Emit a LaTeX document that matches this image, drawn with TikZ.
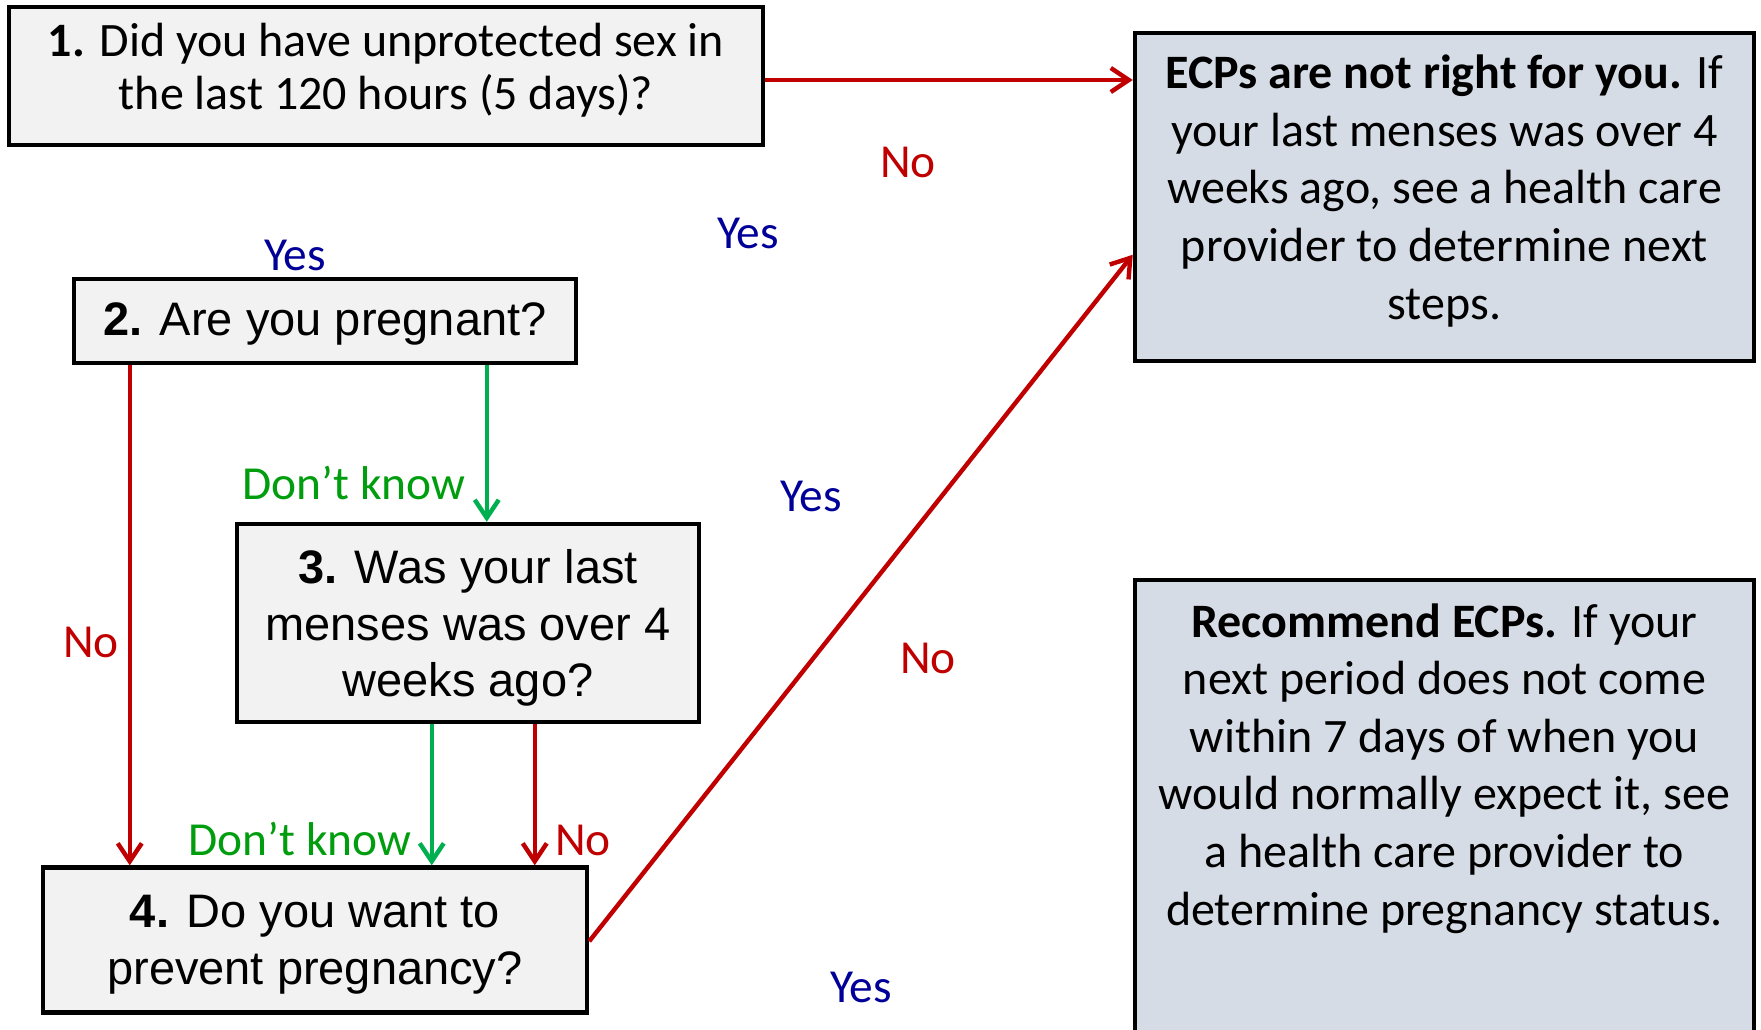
\documentclass[tikz,border=0pt]{standalone}
\usepackage{fontspec}
\setmainfont{Carlito}
\newfontfamily\arifont{Liberation Sans}
\usetikzlibrary{arrows.meta,calc}
\definecolor{boxgray}{HTML}{F2F2F2}
\definecolor{boxblue}{HTML}{D6DCE5}
\definecolor{ecpred}{HTML}{C00000}
\definecolor{arrgreen}{HTML}{00B050}
\definecolor{txtgreen}{HTML}{009E0F}
\definecolor{txtblue}{HTML}{000099}
\begin{document}
\begin{tikzpicture}[x=0.5pt,y=-0.5pt,
  qbox/.style={draw=black, line width=2.25pt, fill=boxgray, inner sep=0pt},
  ebox/.style={draw=black, line width=2.25pt, fill=boxblue, inner sep=0pt},
  txt/.style={align=center, inner sep=0pt},
  calbig/.style={font=\fontsize{24pt}{28.8pt}\selectfont},
  calq/.style={font=\fontsize{24pt}{26.5pt}\selectfont},
  arq/.style={font=\arifont\fontsize{23.5pt}{28.4pt}\selectfont},
  redarr/.style={draw=ecpred, line width=2.2pt, -{Straight Barb[length=9pt,width=12pt]}},
  grnarr/.style={draw=arrgreen, line width=2.2pt, -{Straight Barb[length=9pt,width=12pt]}},
  lbl/.style={anchor=base, inner sep=0pt, font=\fontsize{23.7pt}{28pt}\selectfont}]
\clip (0,0) rectangle (1761,1029);
\fill[white] (0,0) rectangle (1761,1029);

% question boxes
\node[qbox, minimum width=377pt, minimum height=69pt] (q1) at (386,76) {};
\node[txt, calq] (q1t) at (386,70)
  {\textbf{1.} Did you have unprotected sex in\\the last 120 hours (5 days)?};
\node[qbox, minimum width=251pt, minimum height=42pt] (q2) at (325,321) {};
\node[txt, arq] (q2t) at (325,324) {\textbf{2.} Are you pregnant?};
\node[qbox, minimum width=231pt, minimum height=99pt] (q3) at (468,623) {};
\node[txt, arq] (q3t) at (468,628)
  {\textbf{3.} Was your last\\menses was over 4\\weeks ago?};
\node[qbox, minimum width=272pt, minimum height=72.5pt] (q4) at (315,940) {};
\node[txt, arq] (q4t) at (315,945)
  {\textbf{4.} Do you want to\\prevent pregnancy?};

% outcome boxes
\node[ebox, minimum width=309.5pt, minimum height=164pt] (ecp1) at (1444.5,197) {};
\node[txt, calbig] (ecp1t) at (1444.5,191)
  {\textbf{ECPs are not right for you.} If\\your last menses was over 4\\weeks ago, see a health care\\provider to determine next\\steps.};
\node[ebox, minimum width=309.5pt, minimum height=230pt] (ecp2) at (1444.5,810) {};
\node[txt, calbig, anchor=north] (ecp2t) at (1444.5,603)
  {\textbf{Recommend ECPs.} If your\\next period does not come\\within 7 days of when you\\would normally expect it, see\\a health care provider to\\determine pregnancy status.};

% connectors
\draw[redarr] ($(q1.east)+(0,4)$) coordinate (a1) -- (a1 -| ecp1.west);
\draw[redarr] ($(q2.south west)+(58,0)$) coordinate (a2) -- (a2 |- q4.north);
\draw[grnarr] ($(q2.south west)+(415,0)$) coordinate (a3) -- (a3 |- q3.north);
\draw[grnarr] ($(q3.south west)+(197,0)$) coordinate (a4) -- (a4 |- q4.north);
\draw[redarr] ($(q3.south west)+(300,0)$) coordinate (a5) -- (a5 |- q4.north);
\draw[redarr] ($(q4.north east)+(0,76)$) -- ($(ecp1.north west)+(0,224)$);

% labels
\node[lbl, text=ecpred] (lno1) at (908,177) {No};
\node[lbl, text=txtblue] (lyes1) at (748,248) {Yes};
\node[lbl, text=txtblue] (lyes2) at (295,270) {Yes};
\node[lbl, text=txtgreen] (ldk1) at (354,499) {Don’t know};
\node[lbl, text=ecpred] (lno2) at (91,657) {No};
\node[lbl, text=txtblue] (lyes3) at (811,511) {Yes};
\node[lbl, text=ecpred] (lno3) at (928,673) {No};
\node[lbl, text=txtgreen] (ldk2) at (300,855) {Don’t know};
\node[lbl, text=ecpred] (lno4) at (583,855) {No};
\node[lbl, text=txtblue] (lyes4) at (861,1002) {Yes};
\end{tikzpicture}
\end{document}
